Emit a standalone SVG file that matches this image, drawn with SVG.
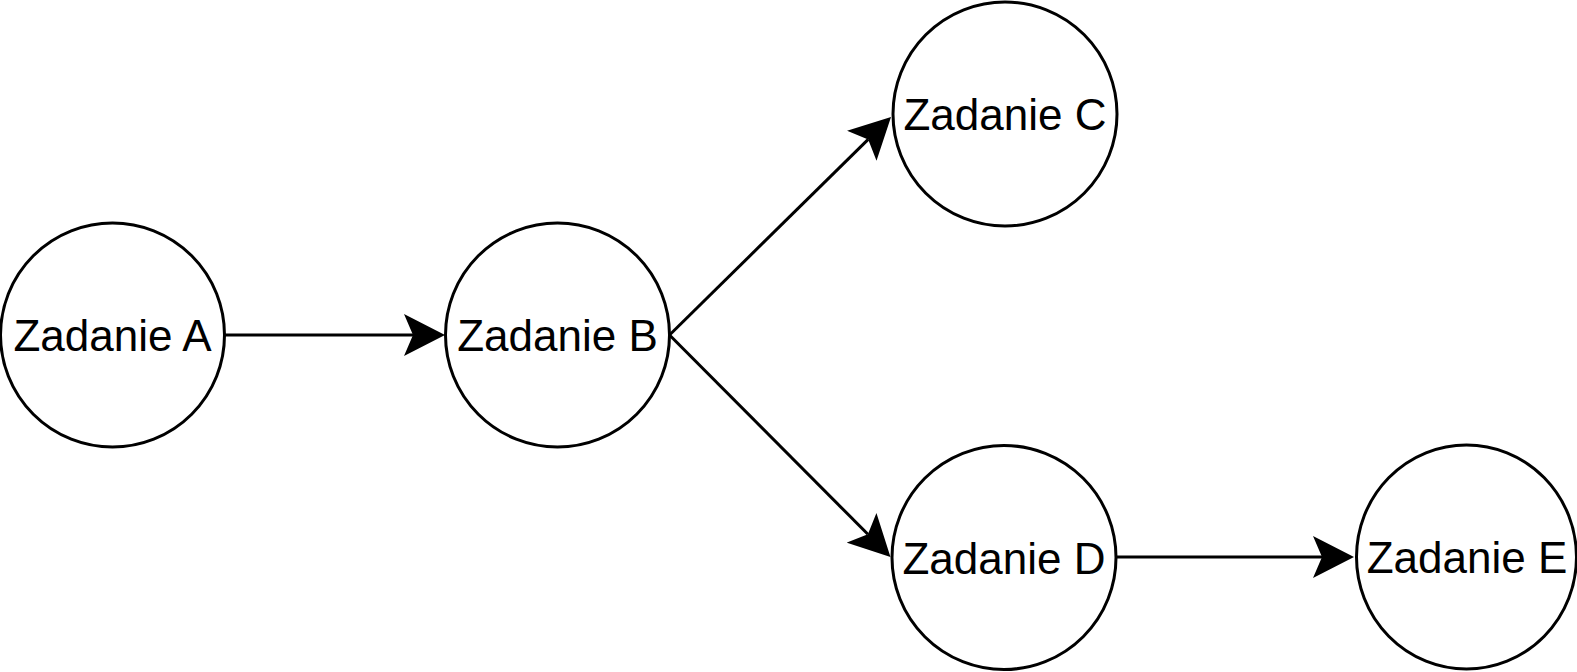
<svg xmlns="http://www.w3.org/2000/svg" width="1577" height="672" viewBox="0 0 1577 672">
<style>
.node{fill:#ffffff;stroke:#000000;stroke-width:3}
.lbl{font-family:"Liberation Sans",Arial,sans-serif;font-size:44px;fill:#000000;text-anchor:middle}
.edge{fill:none;stroke:#000000;stroke-width:3}
</style>
<defs>
<marker id="arr" viewBox="0 0 41 42" markerWidth="41" markerHeight="42" refX="9" refY="21" orient="auto" markerUnits="userSpaceOnUse">
<path d="M0,0 L41,21 L0,42 L9,21 Z" fill="#000000"/>
</marker>
</defs>
<rect width="1577" height="672" fill="#ffffff"/>
<g id="connectors">
<path class="edge" d="M224,335 L413,335" marker-end="url(#arr)"/>
<path class="edge" d="M669.5,335 L868.2,139.4" marker-end="url(#arr)"/>
<path class="edge" d="M669.5,335 L867.9,534.3" marker-end="url(#arr)"/>
<path class="edge" d="M1115.5,557 L1322,557" marker-end="url(#arr)"/>
</g>
<g id="nodeA"><circle class="node" cx="112.5" cy="335" r="112"/><text class="lbl" x="112.5" y="351">Zadanie A</text></g>
<g id="nodeB"><circle class="node" cx="557.5" cy="335" r="112"/><text class="lbl" x="557.5" y="351">Zadanie B</text></g>
<g id="nodeC"><circle class="node" cx="1005" cy="114" r="112"/><text class="lbl" x="1005" y="130">Zadanie C</text></g>
<g id="nodeD"><circle class="node" cx="1004" cy="557.5" r="112"/><text class="lbl" x="1004" y="573.5">Zadanie D</text></g>
<g id="nodeE"><ellipse class="node" cx="1466.5" cy="557" rx="110" ry="112"/><text class="lbl" x="1467" y="573">Zadanie E</text></g>
</svg>
